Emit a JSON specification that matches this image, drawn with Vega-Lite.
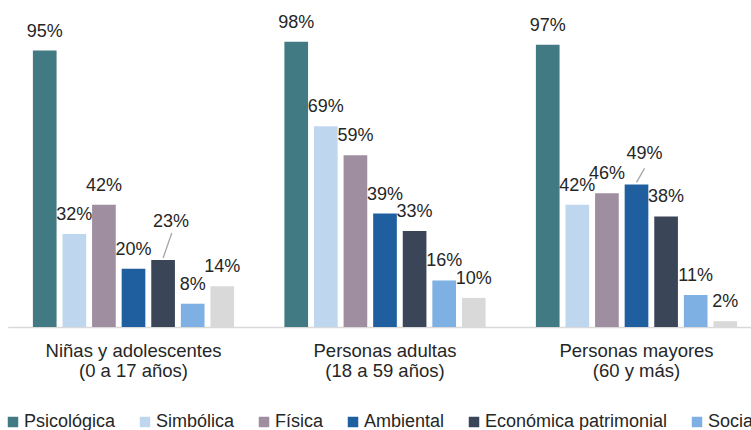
{
  "$schema": "https://vega.github.io/schema/vega-lite/v6.json",
  "autosize": "none",
  "width": 751,
  "height": 291,
  "padding": {"left": 0, "top": 36, "right": 0, "bottom": 103},
  "background": "white",
  "data": {
    "values": [
      {"grupo": "Niñas y adolescentes\n(0 a 17 años)", "tipo": "Psicológica", "valor": 0.95},
      {"grupo": "Niñas y adolescentes\n(0 a 17 años)", "tipo": "Simbólica", "valor": 0.32},
      {"grupo": "Niñas y adolescentes\n(0 a 17 años)", "tipo": "Física", "valor": 0.42},
      {"grupo": "Niñas y adolescentes\n(0 a 17 años)", "tipo": "Ambiental", "valor": 0.20},
      {"grupo": "Niñas y adolescentes\n(0 a 17 años)", "tipo": "Económica patrimonial", "valor": 0.23},
      {"grupo": "Niñas y adolescentes\n(0 a 17 años)", "tipo": "Social", "valor": 0.08},
      {"grupo": "Niñas y adolescentes\n(0 a 17 años)", "tipo": "Sexual", "valor": 0.14},
      {"grupo": "Personas adultas\n(18 a 59 años)", "tipo": "Psicológica", "valor": 0.98},
      {"grupo": "Personas adultas\n(18 a 59 años)", "tipo": "Simbólica", "valor": 0.69},
      {"grupo": "Personas adultas\n(18 a 59 años)", "tipo": "Física", "valor": 0.59},
      {"grupo": "Personas adultas\n(18 a 59 años)", "tipo": "Ambiental", "valor": 0.39},
      {"grupo": "Personas adultas\n(18 a 59 años)", "tipo": "Económica patrimonial", "valor": 0.33},
      {"grupo": "Personas adultas\n(18 a 59 años)", "tipo": "Social", "valor": 0.16},
      {"grupo": "Personas adultas\n(18 a 59 años)", "tipo": "Sexual", "valor": 0.10},
      {"grupo": "Personas mayores\n(60 y más)", "tipo": "Psicológica", "valor": 0.97},
      {"grupo": "Personas mayores\n(60 y más)", "tipo": "Simbólica", "valor": 0.42},
      {"grupo": "Personas mayores\n(60 y más)", "tipo": "Física", "valor": 0.46},
      {"grupo": "Personas mayores\n(60 y más)", "tipo": "Ambiental", "valor": 0.49},
      {"grupo": "Personas mayores\n(60 y más)", "tipo": "Económica patrimonial", "valor": 0.38},
      {"grupo": "Personas mayores\n(60 y más)", "tipo": "Social", "valor": 0.11},
      {"grupo": "Personas mayores\n(60 y más)", "tipo": "Sexual", "valor": 0.02}
    ]
  },
  "encoding": {
    "x": {
      "field": "grupo", "type": "nominal", "sort": null,
      "scale": {"range": [7.75, 762.25], "paddingInner": 0, "paddingOuter": 0},
      "axis": {
        "title": null, "labelAngle": 0, "ticks": false,
        "domainColor": "#d9d9d9", "domainWidth": 1.5,
        "labelFont": "Liberation Sans", "labelFontSize": 18.5, "labelColor": "#262626",
        "labelPadding": 14, "labelLineHeight": 20, "labelLimit": 0,
        "labelExpr": "split(datum.label, '\\n')"
      }
    },
    "xOffset": {
      "field": "tipo", "type": "nominal", "sort": null,
      "scale": {"paddingInner": 0.2, "paddingOuter": 0.85}
    },
    "y": {
      "field": "valor", "type": "quantitative",
      "scale": {"domain": [0, 1], "nice": false, "zero": true},
      "axis": null
    }
  },
  "layer": [
    {
      "mark": {"type": "bar"},
      "encoding": {
        "color": {
          "field": "tipo", "type": "nominal", "sort": null,
          "scale": {
            "domain": ["Psicológica", "Simbólica", "Física", "Ambiental", "Económica patrimonial", "Social", "Sexual"],
            "range": ["#427a83", "#bfd7ee", "#9e8e9f", "#1f5f9f", "#3b4558", "#7fb0e3", "#d9d9d9"]
          },
          "legend": {
            "title": null, "orient": "none", "legendX": 4, "legendY": 377,
            "direction": "horizontal", "symbolType": "square", "symbolSize": 110,
            "symbolStrokeWidth": 0, "labelFont": "Liberation Sans", "labelFontSize": 18,
            "labelColor": "#262626", "labelOffset": 2, "columnPadding": 20,
            "padding": 0, "labelLimit": 0
          }
        }
      }
    },
    {
      "transform": [{"filter": "!((datum.tipo == 'Económica patrimonial' && datum.valor == 0.23) || (datum.tipo == 'Ambiental' && datum.valor == 0.49))"}],
      "mark": {"type": "text", "baseline": "alphabetic", "align": "center", "dy": -14, "font": "Liberation Sans", "fontSize": 18, "color": "#262626"},
      "encoding": {"text": {"field": "valor", "type": "quantitative", "format": ".0%"}}
    },
    {
      "transform": [{"filter": "datum.tipo == 'Económica patrimonial' && datum.valor == 0.23"}],
      "mark": {"type": "text", "baseline": "alphabetic", "align": "center", "dx": 8, "dy": -33, "font": "Liberation Sans", "fontSize": 18, "color": "#262626"},
      "encoding": {"text": {"field": "valor", "type": "quantitative", "format": ".0%"}}
    },
    {
      "transform": [{"filter": "datum.tipo == 'Ambiental' && datum.valor == 0.49"}],
      "mark": {"type": "text", "baseline": "alphabetic", "align": "center", "dx": 8, "dy": -25, "font": "Liberation Sans", "fontSize": 18, "color": "#262626"},
      "encoding": {"text": {"field": "valor", "type": "quantitative", "format": ".0%"}}
    },
    {
      "transform": [{"filter": "datum.tipo == 'Económica patrimonial' && datum.valor == 0.23"}],
      "mark": {"type": "point", "shape": "M0,-0.2L0.87,-2.7", "size": 400, "filled": false, "stroke": "#a6a6a6", "strokeWidth": 1.3, "opacity": 1},
      "encoding": {}
    },
    {
      "transform": [{"filter": "datum.tipo == 'Ambiental' && datum.valor == 0.49"}],
      "mark": {"type": "point", "shape": "M0,-0.2L0.8,-1.6", "size": 400, "filled": false, "stroke": "#a6a6a6", "strokeWidth": 1.3, "opacity": 1},
      "encoding": {}
    }
  ],
  "config": {"view": {"stroke": null}}
}
